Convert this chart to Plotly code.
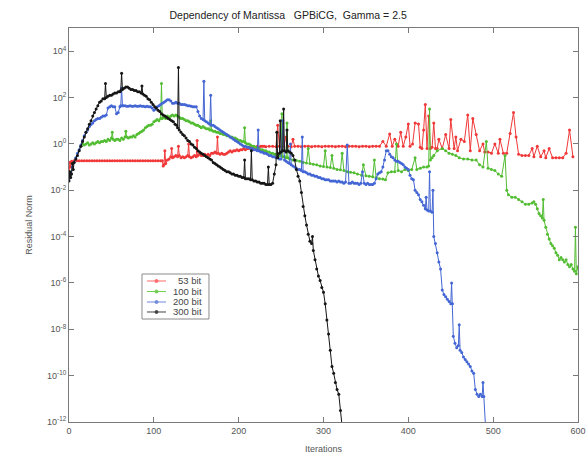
import plotly.graph_objects as go

# ---------------- data (iteration, log10 residual) ----------------
black_it = [0,1,2,3,4,5,6,8,10,12,14,16,18,20,22,24,26,28,30,32,34,36,38,40,42,43,44,46,48,50,52,54,56,58,60,61,62,63,65,67,69,71,73,75,77,79,81,83,85,86,87,89,91,93,95,97,99,101,103,105,107,109,111,113,115,117,119,121,123,125,127,128,129,130,132,134,136,138,140,142,144,146,148,150,152,154,156,158,160,162,164,166,168,170,172,174,176,178,180,182,184,186,188,190,192,194,196,198,200,202,204,206,207,208,210,212,214,215,216,218,220,222,224,226,228,230,232,234,235,236,238,240,242,244,245,246,248,249,250,252,253,254,256,257,258,260,262,264,266,268,270,272,274,276,278,280,282,284,286,287,288,290,292,294,296,298,300,302,304,306,308,310,312,314,316,318,320,322]
black_log = [-1.6,-1.2,-1.45,-1.3,-0.85,-1.1,-0.8,-0.65,-0.5,-0.3,-0.1,0.1,0.3,0.5,0.65,0.85,1.0,1.2,1.35,1.5,1.65,1.8,1.85,1.95,1.95,2.6,2.0,2.05,2.1,2.1,2.15,2.2,2.2,2.25,2.25,2.3,3.05,2.35,2.4,2.45,2.45,2.4,2.35,2.35,2.3,2.3,2.25,2.25,2.2,2.5,2.15,2.1,2.05,1.95,1.9,1.8,1.7,1.6,1.55,1.45,1.4,1.3,1.25,1.2,1.15,1.1,1.05,1.0,0.95,0.85,0.8,0.7,3.3,0.6,0.5,0.4,0.35,0.25,0.15,0.1,0.0,-0.05,-0.15,-0.2,-0.3,-0.35,-0.4,-0.45,-0.5,-0.55,-0.6,-0.65,-0.7,-0.8,-0.85,-0.9,-0.95,-1.0,-1.05,-1.1,-1.15,-1.2,-1.2,-1.25,-1.3,-1.3,-1.35,-1.35,-1.4,-1.4,-1.45,-1.45,-0.7,-1.5,-1.5,-1.5,-1.55,-0.3,-1.55,-1.6,-1.6,-1.65,-1.65,-1.7,-1.7,-1.7,-1.75,-1.75,-1.0,-1.75,-1.75,-1.7,-1.3,-0.9,0.5,-0.6,-0.4,1.0,-0.35,-0.3,1.5,-0.3,-0.35,0.6,-0.3,-0.35,-0.4,-0.5,-0.7,-1.1,-1.4,-1.6,-2.1,-2.7,-3.1,-3.5,-3.9,-4.2,-4.3,-4.0,-4.6,-5.0,-5.4,-5.7,-5.9,-6.2,-6.4,-6.9,-7.6,-8.2,-8.9,-9.6,-9.9,-10.3,-10.6,-10.8,-11.5,-12.2]

red_it = [0,1,2,3,6,9,12,15,18,21,24,27,30,33,36,39,42,45,48,51,54,57,60,63,66,69,72,75,78,81,84,87,90,93,96,99,102,105,108,110,111,112,113,114,116,118,120,121,122,124,126,128,129,130,132,134,136,138,140,141,142,144,146,148,150,151,152,154,156,158,160,162,164,166,168,170,172,174,175,176,178,180,182,184,186,188,190,192,194,196,198,200,202,204,206,208,210,212,214,216,218,220,222,224,226,228,230,232,236,240,244,246,248,251,253,256,258,262,264,266,270,274,278,282,286,290,294,298,302,306,310,314,318,322,326,330,334,338,342,346,350,354,358,362,366,370,374,378,381,384,388,391,394,397,400,402,405,408,412,414,416,418,420,422,424,426,428,430,432,434,436,440,444,448,450,454,456,458,462,466,470,473,476,480,484,488,490,494,498,502,506,508,512,516,520,524,527,530,534,538,542,546,548,552,556,560,562,566,570,574,578,582,586,590,594,597,600]
red_log = [-1.3,-0.8,-1.0,-0.75,-0.73,-0.73,-0.73,-0.73,-0.73,-0.73,-0.73,-0.73,-0.73,-0.73,-0.73,-0.73,-0.73,-0.73,-0.73,-0.73,-0.73,-0.73,-0.73,-0.73,-0.73,-0.73,-0.73,-0.73,-0.73,-0.73,-0.73,-0.73,-0.73,-0.73,-0.73,-0.73,-0.73,-0.73,-0.73,-0.73,-0.95,-0.9,-0.3,-0.85,-0.7,-0.65,-0.55,-0.2,-0.6,-0.55,-0.5,-0.55,-0.1,-0.5,-0.6,-0.55,-0.6,-0.55,-0.5,0.0,-0.55,-0.6,-0.55,-0.5,-0.55,0.15,-0.5,-0.45,-0.5,-0.5,-0.45,-0.5,-0.45,-0.5,-0.4,-0.4,-0.35,-0.4,0.3,-0.4,-0.45,-0.4,-0.45,-0.45,-0.4,-0.35,-0.3,-0.35,-0.3,-0.3,-0.25,-0.3,-0.25,-0.25,-0.2,-0.25,-0.2,-0.2,-0.15,-0.2,-0.15,-0.15,-0.1,-0.15,-0.1,-0.1,-0.1,-0.12,-0.1,-0.1,-0.12,0.8,-0.1,0.9,-0.12,0.3,-0.1,-0.12,0.2,-0.1,-0.1,-0.12,-0.1,-0.1,-0.12,-0.1,-0.1,-0.12,-0.1,-0.1,-0.1,-0.12,-0.1,-0.1,-0.12,-0.1,-0.1,-0.1,-0.12,-0.1,-0.1,-0.12,-0.1,-0.1,-0.1,0.1,-0.1,0.43,-0.1,0.2,-0.1,0.5,-0.1,0.3,0.86,-0.1,0.0,0.9,0.86,-0.15,-0.2,0.6,1.7,-0.2,1.2,-0.2,-0.15,0.9,-0.2,-0.2,0.2,-0.2,0.4,-0.2,1.05,-0.2,0.3,-0.3,0.2,0.1,1.25,-0.3,1.1,0.4,-0.3,0.0,-0.35,-0.35,-0.4,0.0,-0.4,0.2,-0.4,-0.4,0.45,1.35,0.3,-0.45,-0.5,-0.5,-0.5,-0.2,-0.55,-0.1,-0.55,-0.3,-0.6,-0.2,-0.6,-0.6,-0.6,-0.6,-0.4,0.6,-0.55]

green_it = [14,16,18,20,22,24,26,28,30,32,34,36,38,40,42,44,46,48,50,51,52,54,56,58,60,62,64,66,67,68,70,72,74,76,78,80,82,84,86,88,90,92,94,96,98,100,102,104,106,108,109,110,112,114,116,118,120,122,124,126,128,130,132,134,136,138,140,142,144,146,148,150,152,154,156,158,160,162,164,166,167,168,170,172,174,176,178,180,182,184,186,188,190,192,194,196,198,200,202,204,206,207,208,210,212,214,216,218,220,222,224,226,228,230,232,234,236,238,240,242,244,246,248,250,251,252,254,256,257,258,260,264,268,272,276,280,282,284,288,292,296,300,302,304,308,310,312,316,320,322,324,328,332,336,340,345,347,350,354,358,360,362,366,370,373,376,380,384,386,388,392,396,400,404,408,410,414,418,422,424,425,426,428,430,434,440,444,448,452,456,460,465,470,475,480,484,488,492,494,498,502,506,510,514,516,518,522,526,530,534,538,542,546,548,550,552,554,556,558,559,560,562,564,566,568,570,572,574,576,578,580,582,584,586,588,590,592,594,596,597,598,600]
green_log = [-0.1,0.0,-0.05,0.0,0.05,-0.05,0.0,0.05,0.0,0.05,0.1,0.05,0.1,0.1,0.15,0.1,0.2,0.15,0.25,0.5,0.2,0.15,0.2,0.2,0.15,0.25,0.2,0.3,0.55,0.3,0.25,0.3,0.3,0.35,0.3,0.4,0.45,0.5,0.55,0.6,0.7,0.75,0.8,0.8,0.85,0.95,1.0,1.05,1.0,1.1,2.6,1.1,1.15,1.1,1.2,1.15,1.2,1.25,1.2,1.25,1.2,1.15,1.1,1.1,1.05,1.0,1.0,0.95,0.9,0.9,0.85,0.8,0.8,0.75,0.7,0.75,0.7,0.65,0.65,0.6,1.0,0.6,0.55,0.55,0.5,0.5,0.45,0.45,0.4,0.4,0.35,0.35,0.3,0.3,0.25,0.25,0.2,0.15,0.15,0.1,0.1,0.7,0.05,0.0,0.0,-0.05,-0.1,-0.1,-0.15,-0.2,-0.2,-0.25,-0.25,-0.3,-0.3,-0.35,-0.35,-0.4,-0.4,-0.45,-0.45,-0.5,-0.5,-0.5,1.3,-0.55,-0.55,-0.6,0.9,-0.6,-0.65,-0.7,-0.72,-0.75,-0.8,-0.82,-0.2,-0.85,-0.88,-0.9,-0.95,-0.98,-0.3,-1.0,-1.02,-0.5,-1.05,-1.1,-1.12,-0.4,-1.15,-1.2,-1.22,-1.25,-1.3,-1.35,-0.9,-1.38,-1.4,-1.42,-0.7,-1.45,-1.5,-1.52,-1.55,-1.25,-1.2,-1.2,0.0,-1.15,-1.2,-1.1,-1.15,-1.1,-0.6,-1.1,-1.05,-1.0,-1.0,-0.95,1.5,-0.7,-0.6,-0.5,-0.3,-0.2,-0.3,-0.4,-0.45,-0.5,-0.6,-0.65,-0.65,-0.7,-0.7,-0.9,-1.0,0.1,-1.05,-1.1,-1.15,-1.3,-1.4,-0.5,-2.0,-2.2,-2.3,-2.3,-2.4,-2.5,-2.6,-2.6,-2.55,-2.5,-2.6,-2.8,-3.0,-3.1,-3.2,-2.4,-3.3,-3.6,-3.9,-4.1,-4.3,-4.4,-4.5,-4.7,-4.8,-5.0,-4.9,-5.0,-5.1,-5.0,-5.2,-5.3,-5.2,-5.4,-5.5,-3.6,-5.6,-5.3]

blue_it = [0,2,4,6,8,10,12,14,16,18,20,22,24,26,28,30,32,34,36,38,40,42,44,46,48,50,52,54,56,58,60,61,62,63,64,66,68,70,72,74,76,78,80,82,84,86,88,90,92,94,96,98,100,102,104,106,108,110,112,114,116,118,120,122,124,126,128,130,132,134,136,138,140,142,144,146,148,150,152,154,156,158,159,160,162,164,166,167,168,170,172,174,176,178,180,182,184,186,188,190,192,194,196,198,200,202,204,206,208,210,212,214,216,218,220,222,223,224,226,228,230,232,234,236,238,240,242,244,246,248,250,252,254,256,258,260,261,262,264,266,268,270,272,274,275,276,278,280,282,284,286,288,290,292,294,296,298,300,302,304,306,308,310,312,314,316,318,320,322,324,326,328,330,332,334,336,338,340,342,344,346,348,350,352,354,356,358,360,362,364,366,368,370,372,374,376,378,380,382,384,386,388,390,392,394,396,398,400,402,404,406,408,410,412,414,416,418,420,421,422,424,425,426,428,429,430,432,434,436,438,440,442,444,446,448,450,451,452,453,455,457,459,460,461,463,465,467,469,471,473,475,477,479,481,483,485,487,488,489,491]
blue_log = [-1.5,-1.3,-1.0,-0.8,-0.6,-0.4,-0.25,-0.05,0.15,0.35,0.5,0.6,0.75,0.85,0.9,1.0,1.05,1.1,1.1,1.15,1.2,1.2,1.25,1.55,1.6,1.65,1.6,1.6,1.3,1.35,1.6,1.65,2.4,1.65,1.65,1.65,1.62,1.62,1.65,1.62,1.62,1.65,1.62,1.62,1.65,1.62,1.62,1.6,1.62,1.6,1.6,1.55,1.45,1.5,1.6,1.65,1.7,1.75,1.8,1.85,1.9,1.9,1.85,1.75,1.75,1.8,1.75,1.75,1.7,1.7,1.7,1.68,1.65,1.65,1.62,1.6,1.6,1.6,1.4,1.2,1.1,1.05,2.7,1.0,0.95,0.9,0.85,2.1,0.8,0.8,0.75,0.7,0.65,0.6,0.55,0.5,0.45,0.4,0.35,0.3,0.25,0.2,0.15,0.1,0.05,0.0,-0.05,-0.1,-0.1,-0.15,-0.15,-0.2,-0.2,-0.25,-0.25,-0.3,0.6,-0.3,-0.35,-0.35,-0.4,-0.4,-0.45,-0.5,-0.5,-0.55,-0.55,-0.6,-0.6,-0.65,-0.65,1.0,-0.7,-0.75,-0.8,-0.85,0.0,-0.9,-0.95,-1.0,-1.05,-1.1,-1.1,-1.15,0.3,-1.2,-1.2,-1.25,-1.3,-1.3,-1.35,-1.35,-1.4,-1.4,-1.45,-1.45,-1.5,-1.5,-1.55,-1.55,-1.55,-1.6,-1.6,-1.6,-1.6,-1.65,-1.6,-1.65,-1.65,-1.7,-1.65,-0.05,-1.7,-1.7,-1.65,-1.7,-1.7,-1.7,-1.75,-1.7,-1.2,-1.7,-1.75,-1.7,-1.75,-1.75,-1.75,-1.7,-1.5,-1.3,-1.25,-1.2,-1.0,-0.7,-0.3,-0.3,-0.45,-0.55,-0.6,-0.7,-0.75,-0.75,-0.8,-0.85,-0.9,-1.0,-1.05,-1.1,-1.35,-1.5,-1.55,-2.0,-2.1,-2.2,-2.4,-2.5,-2.65,-2.8,-2.3,-2.85,-2.9,-1.2,-2.9,-2.95,-2.0,-4.0,-4.3,-4.7,-5.1,-5.4,-6.3,-6.5,-6.6,-6.7,-6.8,-6.9,-6.0,-6.9,-8.3,-8.6,-8.8,-8.7,-7.8,-8.9,-9.0,-9.2,-9.3,-9.4,-9.5,-9.6,-9.8,-9.9,-10.6,-10.8,-10.9,-10.8,-10.9,-10.3,-10.9,-12.2]

series_names = ["53 bit", "100 bit", "200 bit", "300 bit"]
series_colors = ["#f03838", "#52bd32", "#4466d4", "#151515"]
series_data = [(red_it, red_log), (green_it, green_log), (blue_it, blue_log), (black_it, black_log)]
legend_colors = ["#ff6a6a", "#6fcf4f", "#7088dd", "#444444"]

y_tick_exps = [-12, -10, -8, -6, -4, -2, 0, 2, 4]

FONT = "Liberation Sans, Arial, sans-serif"
fig = go.Figure()
for name, (xs, ls), col in zip(series_names, series_data, series_colors):
    fig.add_trace(go.Scatter(
        x=xs, y=[10 ** v for v in ls], name=name, mode="lines+markers",
        line=dict(color=col, width=1),
        marker=dict(color=col, size=3, symbol="circle"),
        showlegend=False,
    ))

# compact MATLAB-style legend box (paper coordinates of the plot area)
lg_x0, lg_x1, lg_top, lg_bot = 0.1434, 0.275, 0.3756, 0.2614
row_y = [0.3579, 0.3312, 0.3046, 0.2792]
fig.add_shape(type="rect", xref="paper", yref="paper", x0=lg_x0, x1=lg_x1, y0=lg_bot, y1=lg_top,
              line=dict(color="#8a8a8a", width=1), fillcolor="white", layer="above")
for name, col, ry in zip(series_names, legend_colors, row_y):
    fig.add_shape(type="line", xref="paper", yref="paper", x0=0.1532, x1=0.1906, y0=ry, y1=ry,
                  line=dict(color=col, width=1), layer="above")
    fig.add_shape(type="circle", xref="paper", yref="paper", xsizemode="pixel", ysizemode="pixel",
                  xanchor=0.1719, yanchor=ry, x0=-1.5, x1=1.5, y0=-1.5, y1=1.5,
                  line=dict(color=col, width=1), fillcolor=col, layer="above")
    fig.add_annotation(xref="paper", yref="paper", x=0.265, y=ry, text=name, showarrow=False,
                       xanchor="right", yanchor="middle", font=dict(family=FONT, size=9.5, color="#444"))

axis_col = "#7a7a7a"
fig.update_layout(
    width=588, height=459,
    margin=dict(l=69, r=10, t=28, b=37, autoexpand=False),
    paper_bgcolor="white", plot_bgcolor="white",
    font=dict(family=FONT, size=9, color="#555"),
    title=dict(text="Dependency of Mantissa\u00a0\u00a0\u00a0GPBiCG,\u00a0\u00a0Gamma = 2.5",
               x=0.49, xanchor="center", y=0.967, yanchor="middle",
               font=dict(family=FONT, size=10.5, color="#222")),
    showlegend=False,
)
fig.update_xaxes(range=[0, 600], dtick=100, ticks="inside", ticklen=5, automargin=False,
                 showline=True, linecolor=axis_col, linewidth=1, mirror="ticks",
                 tickcolor=axis_col, showgrid=False, zeroline=False,
                 title=dict(text="Iterations", standoff=10, font=dict(size=9)))
fig.update_yaxes(type="log", range=[-12, 5], automargin=False,
                 tickvals=[10.0 ** e for e in y_tick_exps],
                 ticktext=["10<sup>%d</sup>" % e for e in y_tick_exps],
                 ticks="inside", ticklen=5, showline=True, linecolor=axis_col, linewidth=1,
                 mirror="ticks", tickcolor=axis_col, showgrid=False, zeroline=False,
                 title=dict(text="Residual Norm", standoff=12, font=dict(size=9)))

fig.write_html("out.html")
